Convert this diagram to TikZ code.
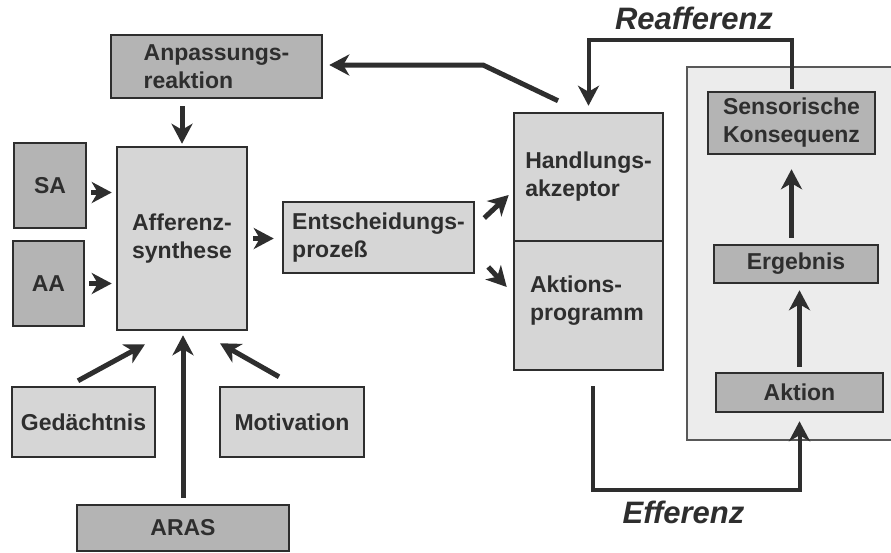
\documentclass[tikz,border=0pt]{standalone}
\usepackage{fontspec}
\setmainfont{Liberation Sans}
\usetikzlibrary{arrows.meta}
\definecolor{ink}{HTML}{2E2E2E}
\definecolor{boxdark}{HTML}{B4B4B4}
\definecolor{boxlight}{HTML}{D6D6D6}
\definecolor{panel}{HTML}{ECECEC}
\begin{document}
\begin{tikzpicture}[x=1pt,y=-1pt,
  every node/.style={font=\fontsize{23}{28}\selectfont\bfseries, text=ink},
  blk/.style={draw=ink, line width=2.5pt, align=left, inner sep=0pt},
  dk/.style={blk, fill=boxdark},
  lt/.style={blk, fill=boxlight},
  sz/.style 2 args={minimum width=#1pt, minimum height=#2pt},
  tip/.style={-{Stealth[length=20pt,width=21pt,inset=6pt]}},
  conn/.style={draw=ink, line width=5pt, tip},
  loop/.style={draw=ink, line width=4pt, tip},
  lbl/.style={font=\fontsize{31}{34}\selectfont\bfseries\itshape}
]
\useasboundingbox (0,0) rectangle (891,552);

% panel behind the action loop
\fill[panel] (891,67) -- (687,67) -- (687,440) -- (891,440) -- cycle;
\draw[ink!80, line width=1.5pt] (891,67) -- (687,67) -- (687,440) -- (891,440);

% boxes
\node[dk, sz={211}{63}] (anp) at (216.5,66.5) {Anpassungs-\\reaktion};
\node[dk, sz={72}{85}] (sa) at (50,185.5) {SA};
\node[dk, sz={71}{85}] (aa) at (48.5,283.5) {AA};
\node[lt, sz={130}{183}] (aff) at (182,238.5) {Afferenz-\\synthese};
\node[lt, sz={191}{71}] (ent) at (378.5,237.5) {Entscheidungs-\\prozeß};
\node[lt, sz={149}{128}] (hand) at (588.5,177) {Handlungs-\\akzeptor};
\node[lt, sz={149}{129}] (akt) at (588.5,305.5) {};
\node (akttxt) at (587,301) [align=left] {Aktions-\\programm};
\node[lt, sz={143}{70}] (ged) at (83.5,422) {Gedächtnis};
\node[lt, sz={144}{70}] (mot) at (292,422) {Motivation};
\node[dk, sz={212}{46}] (aras) at (183,528) {ARAS};
\node[dk, sz={167}{62}] (sens) at (791.5,123) {Sensorische\\Konsequenz};
\node[dk, sz={164}{38}] (erg) at (796,264) {Ergebnis};
\node[dk, sz={167}{39}] (aktion) at (799.5,392.5) {Aktion};

% labels of the two loops
\node[lbl] (reaff) at (694,18) {Reafferenz};
\node[lbl] (eff) at (683.5,512) {Efferenz};

% helper coordinates for bends
\coordinate (bend) at (483,65);
\coordinate (rtop) at (0,40);
\coordinate (ebot) at (0,490);

% connectors into the afferent synthesis
\draw[conn, shorten <=7pt, shorten >=2pt] (anp.south -| aff.north) -- (aff.north);
\draw[conn] ([shift={(4,7)}]sa.east) -- ([shift={(-4,7)}]sa.east -| aff.west);
\draw[conn] ([xshift=4pt]aa.east) -- ([xshift=-4pt]aa.east -| aff.west);
\draw[conn] ([shift={(-5.5,-5)}]ged.north) -- ([shift={(-37,13)}]aff.south);
\draw[conn, shorten <=6pt, shorten >=4pt] (aras.north) -- (aras.north |- aff.south);
\draw[conn] ([shift={(-13,-9)}]mot.north) -- ([shift={(38,12)}]aff.south);

% decision process
\draw[conn, shorten <=5pt, shorten >=8pt] (aff.east) -- (aff.east -| ent.west);
\draw[conn] ([shift={(9,-19.5)}]ent.east) -- ([shift={(-4,18)}]hand.west);
\draw[conn] ([shift={(13,29.5)}]ent.east) -- ([shift={(-6,-18.5)}]akt.west);

% feedback to the adaptation reaction
\draw[conn, line join=miter, shorten >=6pt] ([shift={(-30.5,-11)}]hand.north) -- (bend) -- (anp.east |- bend);

% reafference loop
\draw[loop, shorten >=6pt] ([yshift=2pt]sens.north) -- (sens.north |- rtop) -- (hand.north |- rtop) -- (hand.north);

% efference loop
\draw[loop, shorten >=8pt] ([shift={(4.5,15)}]akt.south) -- ([xshift=4.5pt]akt.south |- ebot) -- (aktion.south |- ebot) -- (aktion.south);

% chain inside the panel
\draw[conn, shorten <=5pt, shorten >=6pt] (aktion.north) -- (aktion.north |- erg.south);
\draw[conn, shorten <=6pt, shorten >=14pt] (erg.north -| sens.south) -- (sens.south);
\end{tikzpicture}
\end{document}
